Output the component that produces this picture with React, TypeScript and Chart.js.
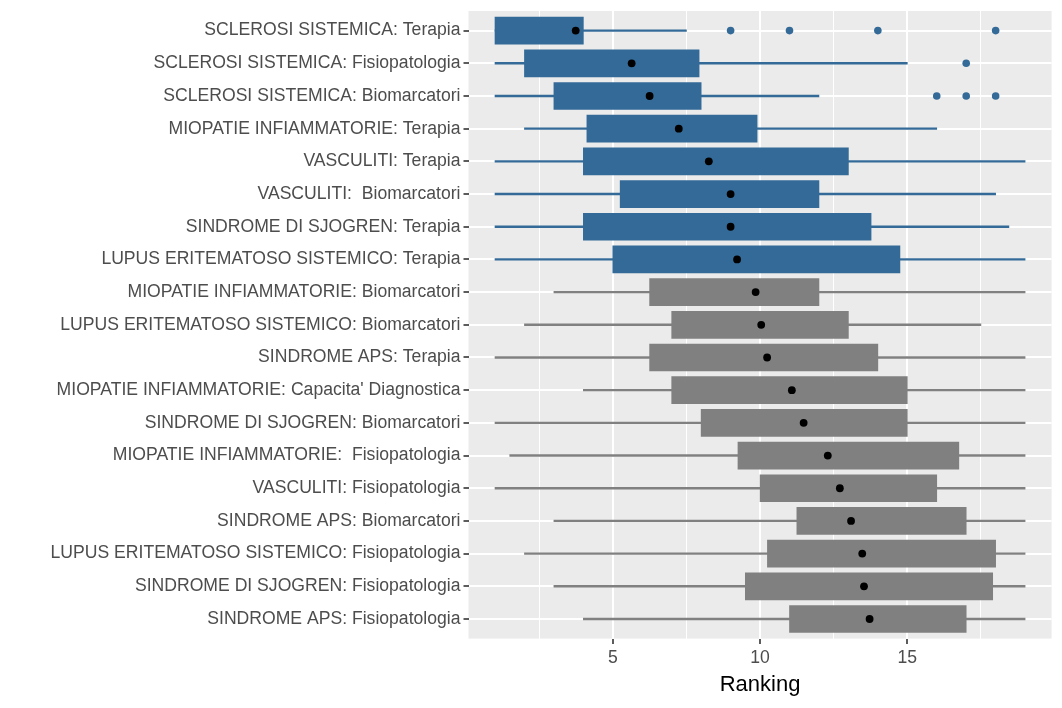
import React, { useEffect, useRef } from "react";
import { Chart, registerables } from "chart.js";

Chart.register(...registerables);

const categories: string[] = [
  "SCLEROSI SISTEMICA: Terapia",
  "SCLEROSI SISTEMICA: Fisiopatologia",
  "SCLEROSI SISTEMICA: Biomarcatori",
  "MIOPATIE INFIAMMATORIE: Terapia",
  "VASCULITI: Terapia",
  "VASCULITI:  Biomarcatori",
  "SINDROME DI SJOGREN: Terapia",
  "LUPUS ERITEMATOSO SISTEMICO: Terapia",
  "MIOPATIE INFIAMMATORIE: Biomarcatori",
  "LUPUS ERITEMATOSO SISTEMICO: Biomarcatori",
  "SINDROME APS: Terapia",
  "MIOPATIE INFIAMMATORIE: Capacita' Diagnostica",
  "SINDROME DI SJOGREN: Biomarcatori",
  "MIOPATIE INFIAMMATORIE:  Fisiopatologia",
  "VASCULITI: Fisiopatologia",
  "SINDROME APS: Biomarcatori",
  "LUPUS ERITEMATOSO SISTEMICO: Fisiopatologia",
  "SINDROME DI SJOGREN: Fisiopatologia",
  "SINDROME APS: Fisiopatologia",
];

const whiskerLow: number[] = [1, 1, 1, 2, 1, 1, 1, 1, 3, 2, 1, 4, 1, 1.5, 1, 3, 2, 3, 4];
const q1: number[] = [1, 2, 3, 4.12, 4, 5.25, 4, 5, 6.25, 7, 6.25, 7, 8, 9.25, 10, 11.25, 10.25, 9.5, 11];
const q3: number[] = [4, 7.93, 8, 9.9, 13, 12, 13.77, 14.75, 12, 13, 14, 15, 15, 16.75, 16, 17, 18, 17.9, 17];
const whiskerHigh: number[] = [7.5, 15, 12, 16, 19, 18, 18.45, 19, 19, 17.5, 19, 19, 19, 19, 19, 19, 19, 19, 19];
const means: number[] = [3.74, 5.64, 6.25, 7.24, 8.26, 9.0, 9.0, 9.22, 9.85, 10.04, 10.24, 11.08, 11.48, 12.3, 12.71, 13.09, 13.47, 13.53, 13.72];
const highlighted: boolean[] = [true, true, true, true, true, true, true, true, false, false, false, false, false, false, false, false, false, false, false];
const outlierRows: number[] = [0, 0, 0, 0, 1, 2, 2, 2];
const outlierValues: number[] = [9, 11, 14, 18, 17, 16, 17, 18];
const xTicks: number[] = [2.5, 5, 7.5, 10, 12.5, 15, 17.5];

const BLUE = "#336A98";
const GRAY = "#808080";
const FONT = "'Liberation Sans', Arial, sans-serif";

const panelBg = {
  id: "panelBg",
  beforeDraw(chart: any) {
    const { ctx, chartArea } = chart;
    ctx.save();
    ctx.fillStyle = "#EBEBEB";
    ctx.fillRect(chartArea.left, chartArea.top, chartArea.right - chartArea.left, chartArea.bottom - chartArea.top);
    ctx.restore();
  },
};

export default function App() {
  const ref = useRef<HTMLCanvasElement | null>(null);

  useEffect(() => {
    if (!ref.current) return;
    const colors = highlighted.map((h) => (h ? BLUE : GRAY));
    const chart = new Chart(ref.current, {
      type: "bar",
      data: {
        datasets: [
          {
            type: "scatter",
            data: outlierValues.map((v, k) => ({ x: v, y: outlierRows[k] })),
            backgroundColor: BLUE,
            borderWidth: 0,
            pointRadius: 3.8,
            order: 0,
          } as any,
          {
            type: "scatter",
            data: means.map((m, i) => ({ x: m, y: i })),
            backgroundColor: "#000000",
            borderWidth: 0,
            pointRadius: 3.9,
            order: 1,
          } as any,
          {
            type: "bar",
            data: categories.map((_, i) => ({ y: i, x: [q1[i], q3[i]] })),
            backgroundColor: colors,
            borderWidth: 0,
            barThickness: 27,
            grouped: false,
            order: 2,
          } as any,
          {
            type: "bar",
            data: categories.map((_, i) => ({ y: i, x: [whiskerLow[i], whiskerHigh[i]] })),
            backgroundColor: colors,
            borderWidth: 0,
            barThickness: 1.7,
            grouped: false,
            order: 3,
          } as any,
        ],
      },
      options: {
        indexAxis: "y",
        animation: false,
        responsive: true,
        maintainAspectRatio: false,
        layout: { padding: { top: 11, right: 10.4, left: 0, bottom: 0 } },
        plugins: { legend: { display: false }, tooltip: { enabled: false } },
        scales: {
          x: {
            type: "linear",
            position: "bottom",
            min: 0.1,
            max: 19.9,
            offset: false,
            afterBuildTicks: (scale: any) => {
              scale.ticks = xTicks.map((v) => ({ value: v }));
            },
            afterFit: (scale: any) => {
              scale.height = 69.4;
              scale.paddingLeft = 0;
              scale.paddingRight = 0;
            },
            border: { display: false },
            grid: {
              offset: false,
              color: "#FFFFFF",
              lineWidth: (c: any) => (c.tick && c.tick.value % 5 === 0 ? 2 : 1),
              tickColor: (c: any) => (c.tick && c.tick.value % 5 === 0 ? "#333333" : "rgba(0,0,0,0)"),
              tickLength: 5.5,
              tickWidth: 1.6,
            },
            ticks: {
              autoSkip: false,
              maxRotation: 0,
              padding: 3,
              color: "#4D4D4D",
              font: { family: FONT, size: 17.6 },
              callback: (v: any) => (Number(v) % 5 === 0 ? String(v) : ""),
            },
            title: {
              display: true,
              text: "Ranking",
              color: "#000000",
              font: { family: FONT, size: 22 },
              padding: { top: 0, bottom: 10 },
            },
          },
          y: {
            type: "linear",
            position: "left",
            reverse: true,
            min: -0.6,
            max: 18.6,
            offset: false,
            afterBuildTicks: (scale: any) => {
              scale.ticks = categories.map((_, i) => ({ value: i }));
            },
            afterFit: (scale: any) => {
              scale.width = 468.5;
              scale.paddingTop = 0;
              scale.paddingBottom = 0;
            },
            border: { display: false },
            grid: {
              offset: false,
              color: "#FFFFFF",
              lineWidth: 2,
              tickColor: "#333333",
              tickLength: 5,
              tickWidth: 1.6,
            },
            ticks: {
              autoSkip: false,
              padding: 3,
              color: "#4D4D4D",
              font: { family: FONT, size: 17.6 },
              callback: (v: any) => categories[Number(v)] ?? "",
            },
          },
        },
      } as any,
      plugins: [panelBg],
    });
    return () => chart.destroy();
  }, []);

  return (
    <div style={{ position: "absolute", left: 0, top: 0, width: 1062, height: 708, background: "#FFFFFF" }}>
      <canvas ref={ref} />
    </div>
  );
}
